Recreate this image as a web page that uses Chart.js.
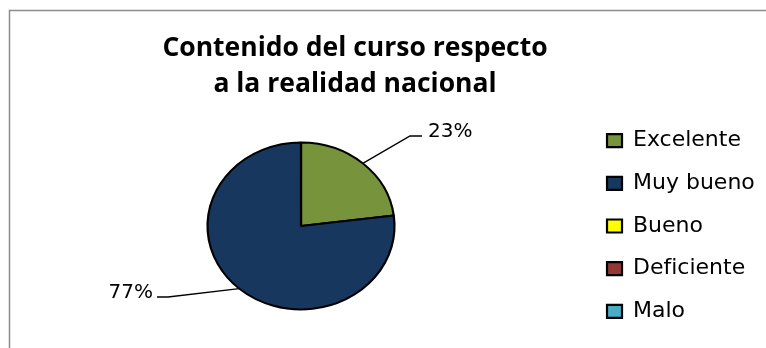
<!DOCTYPE html>
<html lang="es">
<head>
<meta charset="UTF-8">
<title>Contenido del curso respecto a la realidad nacional</title>
<script src="https://cdn.jsdelivr.net/npm/chart.js"></script>
<style>
  body { margin: 0; background: #fff; }
  canvas { display: block; }
</style>
</head>
<body>
<canvas id="pieChart" width="766" height="348"></canvas>
<script>
const categories = ["Excelente", "Muy bueno", "Bueno", "Deficiente", "Malo"];
const percentages = [23, 77, 0, 0, 0];
const sliceColors = ["#77933C", "#17375E", "#FFFF00", "#953735", "#4BACC6"];
const titleLines = ["Contenido del curso respecto", "a la realidad nacional"];

// the pie in the picture is a bit squashed vertically
const yScale = 83.5 / 93.5;

const framePlugin = {
  id: 'frame',
  beforeDraw(chart) {
    const ctx = chart.ctx;
    ctx.save();
    ctx.fillStyle = '#fff';
    ctx.fillRect(0, 0, chart.width, chart.height);
    ctx.strokeStyle = '#8c8c8c';
    ctx.lineWidth = 1.5;
    ctx.strokeRect(9.5, 10.5, chart.width + 20, chart.height + 20);
    ctx.restore();
  }
};

const squashPlugin = {
  id: 'squash',
  beforeDatasetsDraw(chart) {
    const arc = chart.getDatasetMeta(0).data[0];
    const ctx = chart.ctx;
    ctx.save();
    ctx.translate(arc.x, arc.y);
    ctx.scale(1, yScale);
    ctx.translate(-arc.x, -arc.y);
  },
  afterDatasetsDraw(chart) {
    chart.ctx.restore();
  }
};

const labelPlugin = {
  id: 'pctLabels',
  afterDraw(chart, args, opts) {
    const ctx = chart.ctx;
    const meta = chart.getDatasetMeta(0);
    const values = chart.data.datasets[0].data;
    ctx.save();
    ctx.font = '20px "DejaVu Sans"';
    ctx.fillStyle = '#000';
    ctx.strokeStyle = '#000';
    ctx.lineWidth = 1.4;
    ctx.textBaseline = 'middle';
    meta.data.forEach((arc, i) => {
      const pos = opts.positions[i];
      if (!values[i] || !pos) return;
      const mid = (arc.startAngle + arc.endAngle) / 2;
      const sx = arc.x + arc.outerRadius * Math.cos(mid);
      const sy = arc.y + arc.outerRadius * Math.sin(mid) * yScale;
      const ex = arc.x + pos.elbow[0];
      const ey = arc.y + pos.elbow[1];
      const tx = ex + pos.tail;
      ctx.beginPath();
      ctx.moveTo(sx, sy);
      ctx.lineTo(ex, ey);
      ctx.lineTo(tx, ey);
      ctx.stroke();
      ctx.textAlign = pos.tail > 0 ? 'left' : 'right';
      ctx.fillText(values[i] + '%', tx + (pos.tail > 0 ? 6 : -4), ey - 4);
    });
    ctx.restore();
  }
};

new Chart(document.getElementById('pieChart'), {
  type: 'pie',
  data: {
    labels: categories,
    datasets: [{
      data: percentages,
      backgroundColor: sliceColors,
      borderColor: '#000',
      borderWidth: 2.2,
      radius: 93.5
    }]
  },
  options: {
    responsive: false,
    animation: false,
    // negative left padding so the full-width title is centred where the original has it
    layout: { padding: { left: -54.8, right: 1.2, top: 0, bottom: 0 } },
    plugins: {
      title: {
        display: true,
        text: titleLines,
        color: '#000',
        font: { family: '"Open Sans"', size: 26.5, weight: 'bold', lineHeight: 36 / 26.5 },
        padding: { top: 30.5, bottom: 1.5 }
      },
      // empty box on the left, only used as a spacer for the pie
      subtitle: {
        display: true,
        position: 'left',
        text: '',
        font: { size: 10, lineHeight: 1 },
        padding: { top: 60.5, bottom: 0 }
      },
      legend: {
        position: 'right',
        fullSize: false,
        labels: {
          font: { family: '"DejaVu Sans"', size: 22 },
          color: '#000',
          boxWidth: 15,
          boxHeight: 13,
          padding: 20.7
        }
      },
      tooltip: { enabled: false },
      pctLabels: {
        positions: [
          { elbow: [109, -90], tail: 12 },
          { elbow: [-133, 71], tail: -11 }
        ]
      }
    }
  },
  plugins: [framePlugin, squashPlugin, labelPlugin]
});
</script>
</body>
</html>
